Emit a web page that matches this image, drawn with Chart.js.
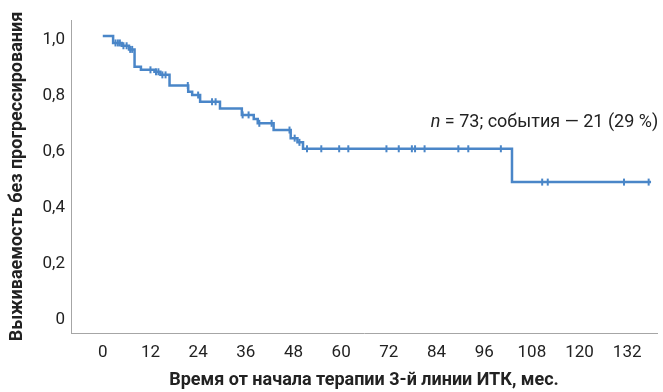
<!DOCTYPE html>
<html lang="ru">
<head>
	<meta charset="UTF-8">
	<title>Выживаемость без прогрессирования</title>
	<script src="https://cdn.jsdelivr.net/npm/chart.js"></script>
	<style>
		html, body { margin: 0; padding: 0; background: #fff; }
		#wrap { width: 663px; height: 392px; }
	</style>
</head>
<body>
	<div id="wrap">
		<canvas id="kmChart"></canvas>
	</div>

	<script>
		// Kaplan-Meier steps (months, survival after the step)
		const stepMonths = [0, 2.6, 4.8, 6.6, 8, 9.6, 13, 14.5, 16.8, 21.5, 22.5, 24.5, 29.5, 35, 38, 39, 43, 47.3, 49, 50.4, 103, 138];
		const stepSurv   = [1.0, 0.975, 0.965, 0.952, 0.89, 0.879, 0.872, 0.861, 0.823, 0.801, 0.789, 0.765, 0.741, 0.718, 0.703, 0.688, 0.664, 0.635, 0.62, 0.597, 0.478, 0.478];

		// censored patients (months)
		const censorMonths = [3.2, 3.8, 4.3, 5.2, 6, 6.9, 7.4, 12, 13.4, 14, 15, 15.8, 21.4, 24, 27.5, 28.4, 35.2, 36.7, 39.4, 42.5,
			47, 48.3, 49.5, 51.4, 55, 59.5, 61.8, 71.4, 74.5, 77.8, 78.6, 81, 89.5, 92, 100.2, 110.6, 112, 131.2, 137.4];

		const xTicks = [0, 12, 24, 36, 48, 60, 72, 84, 96, 108, 120, 132];
		const yTicks = [0, 0.2, 0.4, 0.6, 0.8, 1.0];
		const note = 'n = 73; события — 21 (29 %)';

		function survAt(t) {
			let s = stepSurv[0];
			for (let i = 0; i < stepMonths.length; i++) {
				if (stepMonths[i] <= t) s = stepSurv[i];
			}
			return s;
		}

		const blue = '#4a86c8';
		const axisGrey = '#a6a6a6';
		const fontFam = '"Roboto", sans-serif';

		const noteText = {
			id: 'noteText',
			afterDatasetsDraw(chart) {
				const ctx = chart.ctx;
				const x = chart.scales.x.getPixelForValue(139.8);
				const y = chart.scales.y.getPixelForValue(0.69);
				ctx.save();
				ctx.fillStyle = '#222';
				ctx.textBaseline = 'middle';
				ctx.textAlign = 'right';
				ctx.font = '18px ' + fontFam;
				const rest = note.slice(1);
				ctx.fillText(rest, x, y);
				const w = ctx.measureText(rest).width;
				ctx.font = 'italic 18px ' + fontFam;
				ctx.fillText('n', x - w, y);
				ctx.restore();
			}
		};

		new Chart(document.getElementById('kmChart'), {
			type: 'line',
			data: {
				datasets: [{
					label: 'ВБП',
					data: stepMonths.map((m, i) => ({x: m, y: stepSurv[i]})),
					stepped: 'before',
					borderColor: blue,
					borderWidth: 2.5,
					pointRadius: 0,
					fill: false
				}, {
					label: 'цензурированные',
					type: 'scatter',
					data: censorMonths.map(m => ({x: m, y: survAt(m)})),
					pointStyle: 'line',
					rotation: 90,
					pointRadius: 3.5,
					borderColor: blue,
					backgroundColor: blue,
					pointBorderWidth: 2
				}]
			},
			options: {
				responsive: true,
				maintainAspectRatio: false,
				animation: false,
				layout: { padding: { top: 20, right: 1, left: 0, bottom: 1 } },
				plugins: {
					legend: { display: false },
					tooltip: { enabled: false }
				},
				scales: {
					x: {
						type: 'linear',
						min: -8,
						max: 139.5,
						afterBuildTicks: axis => { axis.ticks = xTicks.map(v => ({value: v})); },
						afterFit: scale => { scale.height = 58; },
						grid: { display: false, drawTicks: false },
						border: { color: axisGrey, width: 1 },
						ticks: {
							padding: 10,
							color: '#222',
							font: { family: fontFam, size: 17 },
							maxRotation: 0,
							autoSkip: false
						},
						title: {
							display: true,
							text: 'Время от начала терапии 3-й линии ИТК, мес.',
							color: '#222',
							font: { family: fontFam, size: 18, weight: 'bold' },
							padding: { top: 0, bottom: 0 }
						}
					},
					y: {
						type: 'linear',
						min: -0.061,
						max: 1.057,
						afterBuildTicks: axis => { axis.ticks = yTicks.map(v => ({value: v})); },
						afterFit: scale => { scale.width = 71; },
						grid: { display: false, drawTicks: false },
						border: { color: axisGrey, width: 1 },
						ticks: {
							padding: 6,
							labelOffset: 4,
							color: '#222',
							font: { family: fontFam, size: 17 },
							callback: v => v === 0 ? '0' : v.toFixed(1).replace('.', ',')
						},
						title: {
							display: true,
							text: 'Выживаемость без прогрессирования',
							color: '#222',
							font: { family: fontFam, size: 18, weight: 'bold' },
							padding: { top: 7, bottom: 0 }
						}
					}
				}
			},
			plugins: [noteText]
		});
	</script>
</body>
</html>
